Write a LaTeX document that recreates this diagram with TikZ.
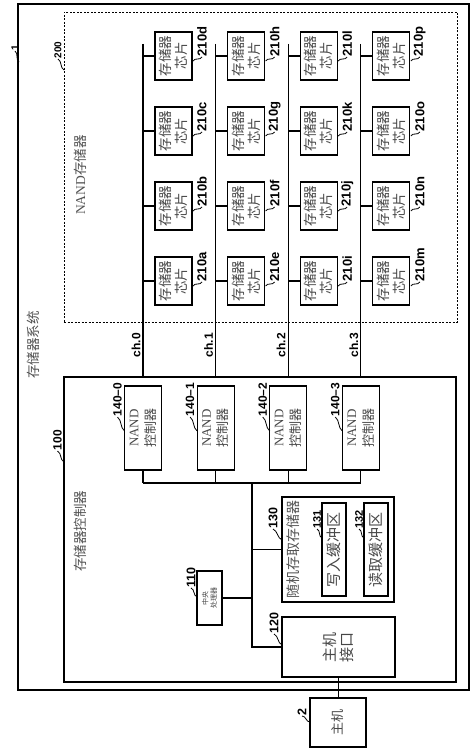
\documentclass[tikz,border=0pt]{standalone}
\usepackage{fontspec}
\setmainfont{Liberation Serif}
\setsansfont{Liberation Sans}
\newfontfamily\cjk{Noto Sans CJK SC}
\usetikzlibrary{calc}

\newcommand{\leader}[2]{\draw[squig] (#1) .. controls ($(#1)!0.33!(#2)!2.5pt!90:(#2)$) and ($(#1)!0.67!(#2)!2.5pt!-90:(#2)$) .. (#2);}

\begin{document}
\begin{tikzpicture}[x=1pt,y=-1pt,
	frame/.style={draw, line width=1.2pt, inner sep=0pt, outer sep=0pt},
	rbox/.style={frame, rotate=90, align=center, text=black!72},
	chipbox/.style={rbox, minimum width=48pt, minimum height=37pt, font=\cjk\fontsize{13.5}{16}\selectfont},
	ncbox/.style={rbox, minimum width=84pt, minimum height=37pt, font=\rmfamily\fontsize{13}{17}\selectfont},
	title/.style={rotate=90, text=black!68, font=\cjk\fontsize{13.5}{16}\selectfont},
	reflabel/.style={rotate=90, anchor=west, inner sep=0.5pt, font=\sffamily\bfseries\fontsize{12}{12}\selectfont},
	chlabel/.style={rotate=90, font=\sffamily\bfseries\fontsize{12}{12}\selectfont},
	squig/.style={line width=0.8pt},
	bus/.style={line width=1.1pt}]
\useasboundingbox (0,0) rectangle (474,752);
% Frames
\node[frame, minimum width=451pt, minimum height=686pt] (sys) at (243.5,347) {};
\node[frame, line width=0.8pt, dash pattern=on 2pt off 1.5pt, minimum width=393pt, minimum height=310pt] (nand) at (260.5,167) {};
\node[frame, minimum width=392pt, minimum height=305pt] (ctrl) at (260,529.5) {};
\node[title] (systitle) at (33,345) {存储器系统};
\node[title] (nandtitle) at (80,175) {{\rmfamily NAND}存储器};
\node[title] (ctrltitle) at (80,531) {存储器控制器};
\node[reflabel, font=\sffamily\bfseries\fontsize{10}{10}\selectfont] (lblsys) at (15,51) {1};
\leader{lblsys.west}{19,62}
\node[reflabel, font=\sffamily\bfseries\fontsize{10}{10}\selectfont] (lblnand) at (58,59) {200};
\leader{lblnand.west}{64,70}
\node[reflabel] (lblctrl) at (57.5,451) {100};
\leader{lblctrl.west}{64,462}
% Channels and NAND controllers
\foreach \k in {0,...,3} {
	\coordinate (bustop\k) at ({143+72.6*\k},44);
	\draw[bus] (bustop\k) -- (bustop\k |- ctrl.north);
	\node[chlabel] (ch\k) at ({136+72.6*\k},345) {ch.\k};
	\node[ncbox] (nc\k) at ({143+72.6*\k},428) {NAND\\{\cjk 控制器}};
	\node[reflabel] (lblnc\k) at ($(nc\k.north)+(-7,-11)$) {140–\k};
	\coordinate (endnc\k) at ($(nc\k.north)+(0,3)$);
	\leader{lblnc\k.west}{endnc\k}
}
% Memory chips
\foreach \l [count=\i from 0] in {a,...,p} {
	\pgfmathtruncatemacro{\col}{\i/4}
	\pgfmathtruncatemacro{\row}{mod(\i,4)}
	\node[chipbox] (chip\l) at ({173.5+72.6*\col},{281-75*\row}) {存储器\\芯片};
	\draw[bus] (chip\l.north) -- (chip\l.north -| bustop\col);
	\node[reflabel, font=\sffamily\bfseries\fontsize{13}{13}\selectfont] (lbl\l) at ($(chip\l.south)+(10,1)$) {210\l};
	\coordinate (end\l) at ($(chip\l.south)+(1,5)$);
	\leader{lbl\l.west}{end\l}
}
% Controller parts
\node[rbox, minimum width=105pt, minimum height=112pt] (ram) at (338,549.5) {};
\node[title, font=\cjk\fontsize{14}{16}\selectfont] (ramtxt) at ($(ram.north)+(11,0)$) {随机存取存储器};
\node[reflabel, font=\sffamily\bfseries\fontsize{12.5}{12}\selectfont] (lblram) at (273,529) {130};
\leader{lblram.west}{282,540}
\node[rbox, minimum width=93pt, minimum height=24pt, font=\cjk\fontsize{15}{16}\selectfont] (wbuf) at (334,549.5) {写入缓冲区};
\node[reflabel, font=\sffamily\bfseries\fontsize{11}{12}\selectfont] (lblwbuf) at (317,529) {131};
\leader{lblwbuf.west}{322,538}
\node[rbox, minimum width=93pt, minimum height=24pt, font=\cjk\fontsize{15}{16}\selectfont] (rbuf) at (376,549.5) {读取缓冲区};
\node[reflabel, font=\sffamily\bfseries\fontsize{11}{12}\selectfont] (lblrbuf) at (359,529) {132};
\leader{lblrbuf.west}{364,538}
\node[rbox, minimum width=54pt, minimum height=25pt, font=\cjk\fontsize{7}{8.5}\selectfont] (cpu) at (209.5,598) {中央\\处理器};
\node[reflabel, font=\sffamily\bfseries\fontsize{12.5}{12}\selectfont] (lblcpu) at (191,588) {110};
\leader{lblcpu.west}{197,597}
\node[rbox, minimum width=60pt, minimum height=113pt, font=\cjk\fontsize{15}{17}\selectfont] (hostif) at (338.5,647) {主机\\接口};
\node[reflabel, font=\sffamily\bfseries\fontsize{12.5}{12}\selectfont] (lblhostif) at (274,634) {120};
\leader{lblhostif.west}{282,645}
\node[rbox, minimum width=49pt, minimum height=56pt, font=\cjk\fontsize{13}{16}\selectfont] (host) at (338,722.5) {主机};
\node[reflabel, font=\sffamily\bfseries\fontsize{12.5}{12}\selectfont] (lblhost) at (302,716) {2};
\leader{lblhost.west}{310,722}
% Internal bus
\coordinate (join) at (252,483);
\draw[bus] (nc0.west |- join) -- (nc3.west |- join);
\foreach \k in {0,...,3} \draw[bus] (nc\k.west) -- (nc\k.west |- join);
\draw[bus] (join) |- (hostif.north);
\draw[bus] (ram.north) -- (ram.north -| join);
\draw[bus] (cpu.south) -- (cpu.south -| join);
\draw[bus] (hostif.west) -- (hostif.west |- host.east);
\end{tikzpicture}
\end{document}
